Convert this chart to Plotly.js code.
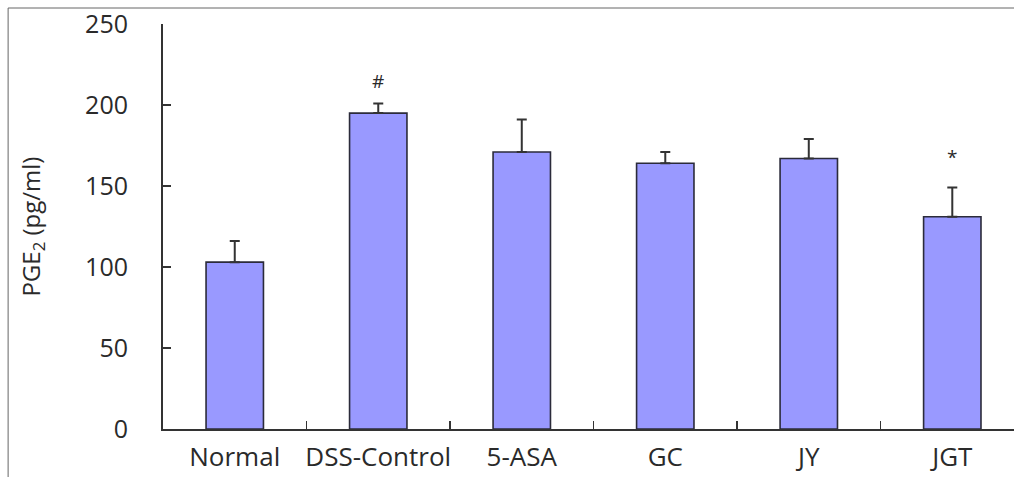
<!DOCTYPE html>
<html>
<head>
<meta charset="utf-8">
<script src="https://cdn.plot.ly/plotly-3.0.1.min.js"></script>
<style>
html,body{margin:0;padding:0;background:#fff;}
#chart{width:1014px;height:477px;}
</style>
</head>
<body>
<div id="chart"></div>
<script>
const categories = ["Normal", "DSS-Control", "5-ASA", "GC", "JY", "JGT"];
const means = [103, 195, 171, 164, 167, 131];
const errors = [13, 6, 20, 7, 12, 18];
const markTexts = ["", "#", "", "", "", "*"];
const markValues = [null, 215, null, null, null, 168];
const yTicks = [0, 50, 100, 150, 200, 250];
const yTitle = "PGE<sub>2</sub> (pg/ml)";

const FONT = "Open Sans, DejaVu Sans, sans-serif";

const trace = {
  type: "bar",
  x: categories,
  y: means,
  width: 0.4,
  marker: {color: "#9999ff", line: {color: "#2b2b3a", width: 1.6}},
  error_y: {type: "data", array: errors, symmetric: false, arrayminus: means.map(() => 0),
            color: "#333333", thickness: 2, width: 5},
  hoverinfo: "skip"
};

const annotations = [];
categories.forEach((c, i) => {
  if (markTexts[i]) {
    annotations.push({x: c, y: markValues[i], xref: "x", yref: "y", text: markTexts[i],
      showarrow: false, font: {family: FONT, size: 19, color: "#2a2a2a"}});
  }
});
annotations.push({xref: "paper", yref: "paper", x: -0.155, y: 0.5, xanchor: "center", yanchor: "middle",
  textangle: -90, text: yTitle, showarrow: false, font: {family: FONT, size: 24, color: "#2a2a2a"}});

const layout = {
  width: 1014, height: 477,
  margin: {l: 163, r: 0, t: 24, b: 48},
  paper_bgcolor: "#ffffff", plot_bgcolor: "#ffffff",
  showlegend: false,
  font: {family: FONT, color: "#2a2a2a"},
  xaxis: {
    type: "category", range: [-0.5, 5.43], tickson: "boundaries",
    ticks: "inside", ticklen: 8, tickwidth: 1.5, tickcolor: "#333",
    showline: true, linecolor: "#333", linewidth: 2,
    showgrid: false, zeroline: false, tickangle: 0,
    tickfont: {family: FONT, size: 26, color: "#2a2a2a"},
    ticklabelstandoff: 4
  },
  yaxis: {
    range: [0, 250], tickvals: yTicks, ticktext: yTicks.map(String),
    ticks: "inside", ticklen: 8, tickwidth: 1.5, tickcolor: "#333",
    showline: true, linecolor: "#333", linewidth: 2,
    showgrid: false, zeroline: false,
    tickfont: {family: FONT, size: 25, color: "#2a2a2a"},
    ticklabelstandoff: 28
  },
  annotations: annotations,
  shapes: [
    {type: "line", xref: "paper", yref: "paper", x0: -0.182, x1: 1.0, y0: 1.0395, y1: 1.0395,
     line: {color: "#666", width: 1}},
    {type: "line", xref: "paper", yref: "paper", x0: -0.182, x1: -0.182, y0: 1.0395, y1: -0.12,
     line: {color: "#666", width: 1}}
  ]
};

Plotly.newPlot("chart", [trace], layout, {displayModeBar: false, staticPlot: true});
</script>
</body>
</html>
